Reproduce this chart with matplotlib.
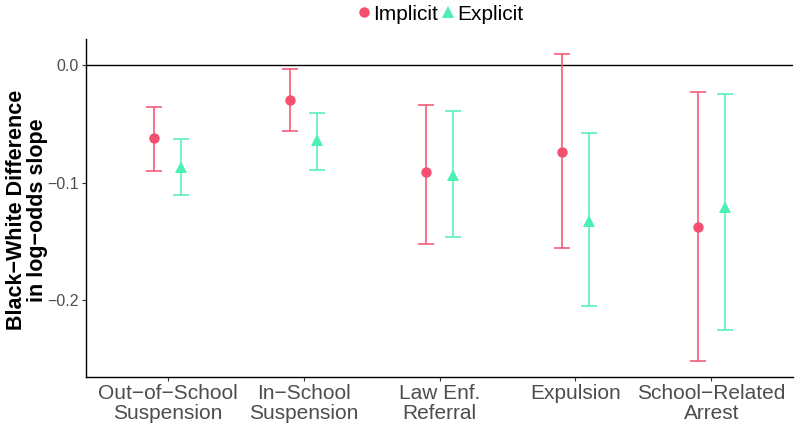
import matplotlib
matplotlib.use("Agg")
import matplotlib.pyplot as plt
import numpy as np

plt.rcParams['font.family'] = ['Liberation Sans', 'DejaVu Sans']

categories = ["Out\u2212of\u2212School\nSuspension", "In\u2212School\nSuspension",
              "Law Enf.\nReferral", "Expulsion", "School\u2212Related\nArrest"]

implicit_est = [-0.062, -0.030, -0.091, -0.074, -0.138]
implicit_lo = [-0.090, -0.056, -0.152, -0.156, -0.252]
implicit_hi = [-0.036, -0.003, -0.034, 0.009, -0.023]

explicit_est = [-0.087, -0.064, -0.094, -0.133, -0.121]
explicit_lo = [-0.111, -0.089, -0.146, -0.205, -0.225]
explicit_hi = [-0.063, -0.041, -0.039, -0.058, -0.025]

c_imp = "#F2506E"
c_exp = "#4DF0B3"

fig = plt.figure(figsize=(7.96, 4.29), dpi=100)
left, right, bottom, top = 86/796, 793/796, 1-377/429, 1-39/429
ax = fig.add_axes([left, bottom, right - left, top - bottom])

x = np.arange(len(categories))
dodge = 0.1

def draw(xs, est, lo, hi, color, marker, ms, label):
    est = np.array(est); lo = np.array(lo); hi = np.array(hi)
    ax.errorbar(xs, est, yerr=[est - lo, hi - est], fmt='none', ecolor=color,
                elinewidth=1.1, capsize=6, capthick=1.1, zorder=2)
    ax.plot(xs, est, linestyle='none', marker=marker, color=color, markersize=ms,
            markeredgewidth=0, label=label, zorder=3)

ax.axhline(0, color='black', linewidth=1.0, zorder=1)
draw(x - dodge, implicit_est, implicit_lo, implicit_hi, c_imp, 'o', 7.5, "Implicit")
draw(x + dodge, explicit_est, explicit_lo, explicit_hi, c_exp, '^', 9, "Explicit")

ax.set_xlim(-0.6, 4.6)
ax.set_ylim(-0.2654, 0.0221)
ax.set_xticks(x)
ax.set_xticklabels(categories, fontsize=15, color='#4D4D4D', linespacing=1.05)
ax.set_yticks([0.0, -0.1, -0.2])
ax.set_yticklabels(["0.0", "\u22120.1", "\u22120.2"], fontsize=11.5, color='#4D4D4D')
ax.tick_params(axis='both', length=3, width=0.8, color='#333333', pad=2)
for s in ['top', 'right']:
    ax.spines[s].set_visible(False)
for s in ['left', 'bottom']:
    ax.spines[s].set_color('black')
    ax.spines[s].set_linewidth(1.0)

ax.set_ylabel("Black\u2212White Difference\nin log\u2212odds slope", fontsize=15.5,
              fontweight='bold', linespacing=1.0)
ax.yaxis.label.set_va('center')
ax.yaxis.set_label_coords((27 - 86) / 707, (377 - 210) / 338)

fig.legend(loc='center', bbox_to_anchor=((left + right) / 2, 1 - 14/429), ncol=2, frameon=False,
           fontsize=15, handletextpad=0.05, columnspacing=0.1, handlelength=0.8,
           borderaxespad=0, borderpad=0)

fig.savefig("out.png", dpi=100)
